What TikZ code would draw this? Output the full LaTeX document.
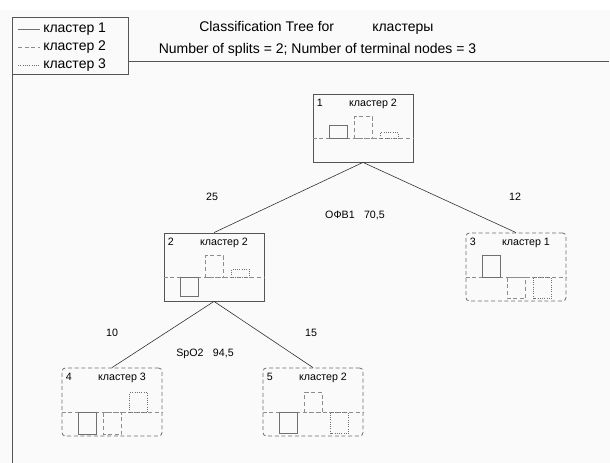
\documentclass[tikz,border=0pt]{standalone}
\usepackage{fontspec}
\setmainfont{Liberation Sans}
\usetikzlibrary{calc}

\definecolor{framegray}{HTML}{555555}
\definecolor{bargray}{HTML}{707070}
\definecolor{paper}{HTML}{FAFAFA}

\tikzset{
  split/.style={draw=framegray, line width=0.6pt, minimum width=75pt,
    minimum height=51pt, inner sep=0pt},
  leaf/.style={split, draw=framegray!85, dash pattern=on 3pt off 2pt, rounded corners=2.5pt},
  txt/.style={font=\fontsize{8}{10}\selectfont, inner sep=0pt, text height=6pt, text depth=1.6pt},
  big/.style={font=\fontsize{10.5}{12}\selectfont, inner sep=0pt, text height=7.6pt, text depth=2pt},
  edge/.style={draw=black!80, line width=0.45pt},
  bsolid/.style={draw=bargray, line width=0.6pt},
  bdash/.style={draw=bargray!80, line width=0.6pt, dash pattern=on 3pt off 2pt},
  bdot/.style={draw=bargray, line width=0.6pt, dash pattern=on 0.7pt off 1pt},
}

% baseline and the three bars of one node (heights in px, up is positive)
\newcommand{\histbars}[4]{%
  \draw[bdash] ($(#1.north west)+(0,45)$) -- ($(#1.north east)+(0,45)$);
  \draw[bsolid] ($(#1.north west)+(17,45)$) rectangle ($(#1.north west)+(35,{45-(#2)})$);
  \draw[bdash] ($(#1.north west)+(42,45)$) rectangle ($(#1.north west)+(60,{45-(#3)})$);
  \draw[bdot] ($(#1.north west)+(68,45)$) rectangle ($(#1.north west)+(86,{45-(#4)})$);
}

\begin{document}
\begin{tikzpicture}[x=0.75pt,y=-0.75pt]
\useasboundingbox (0,0) rectangle (610,463);
\fill[paper] (0,10) rectangle (610,463);

% legend and frame
\draw[framegray, line width=0.6pt] (12,17) rectangle (128,74);
\draw[framegray, line width=0.6pt] (128,61) -- (609,61);
\draw[framegray, line width=0.6pt] (12,74) -- (12,463);
\draw[bsolid] (18,29) -- (40,29);
\draw[bdash] (18,47) -- (40,47);
\draw[bdot] (18,65) -- (40,65);
\node[big, anchor=west] (lg1) at (43,29) {кластер 1};
\node[big, anchor=west] (lg2) at (43,47) {кластер 2};
\node[big, anchor=west] (lg3) at (43,65) {кластер 3};

% title
\node[big, anchor=west] (t1) at (199,28) {Classification Tree for};
\node[big, anchor=west] (t2) at (372,28) {кластеры};
\node[big] (t3) at (317.5,50) {Number of splits = 2; Number of terminal nodes = 3};

% tree nodes
\node[split] (n1) at (363,128) {};
\node[split] (n2) at (214,267) {};
\node[leaf] (n3) at (516,267) {};
\node[leaf] (n4) at (112,402) {};
\node[leaf] (n5) at (313,402) {};

\foreach \n/\c in {1/2, 2/2, 3/1, 4/3, 5/2} {
  \node[txt, anchor=west] (id\n) at ($(n\n.north west)+(4,10)$) {\n};
  \node[txt] (cl\n) at ($(n\n.north)+(10,10)$) {кластер \c};
}

\histbars{n1}{13}{22}{6}
\histbars{n2}{-19}{22}{8}
\histbars{n3}{22}{-21}{-21}
\histbars{n4}{-22}{-22}{20}
\histbars{n5}{-21}{20}{-21}

% branches
\draw[edge] (n1.south) -- (n2.north);
\draw[edge] (n1.south) -- (n3.north);
\draw[edge] (n2.south) -- (n4.north);
\draw[edge] (n2.south) -- (n5.north);

\node[txt] (k2) at ($(n2.north)+(-2,-35)$) {25};
\node[txt] (k3) at ($(n3.north)+(-1,-35)$) {12};
\node[txt] (k4) at ($(n4.north)+(0,-34)$) {10};
\node[txt] (k5) at ($(n5.north)+(-2,-34)$) {15};
\node[txt] (s1) at ($(n1.south)+(-8,53)$) {ОФВ1\hspace{7pt}70,5};
\node[txt] (s2) at ($(n2.south)+(-9,52)$) {SpO2\hspace{7pt}94,5};
\end{tikzpicture}
\end{document}
